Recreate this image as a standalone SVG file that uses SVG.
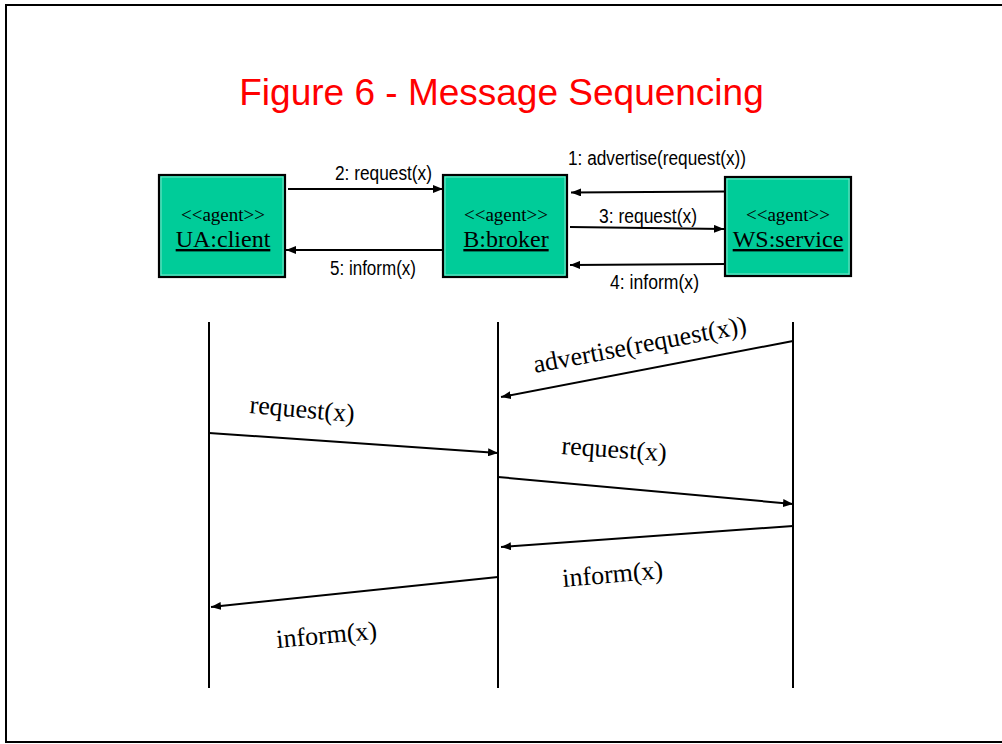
<svg xmlns="http://www.w3.org/2000/svg" width="1002" height="744" viewBox="0 0 1002 744">
<style>
.frame{fill:#fff;stroke:#000;stroke-width:2}
.box{fill:#00CC99;stroke:#000;stroke-width:2.2}
.inner{fill:none;stroke:#7fe6c9;stroke-width:1}
.st{font-family:"Liberation Serif","Times New Roman",serif;font-size:19px;fill:#000;text-anchor:middle}
.nm{font-family:"Liberation Serif","Times New Roman",serif;font-size:24px;fill:#000;text-anchor:middle;text-decoration:underline}
.lbl{font-family:"Liberation Sans",Arial,sans-serif;font-size:20px;fill:#000}
.msg{font-family:"Liberation Serif","Times New Roman",serif;font-size:26px;fill:#000}
.ln{stroke:#000;stroke-width:2;fill:none}
.life{stroke:#000;stroke-width:2}
.title{font-family:"Liberation Sans",Arial,sans-serif;font-size:37px;fill:#FF0000;text-anchor:middle}
</style>
<defs>
<marker id="ah" viewBox="0 0 10 8" refX="10" refY="4" markerWidth="10" markerHeight="8" markerUnits="userSpaceOnUse" orient="auto">
<path d="M0,0 L10,4 L0,8 Z" fill="#000"/>
</marker>
</defs>
<rect class="frame" x="6" y="5" width="1010" height="737"/>
<text class="title" x="501.5" y="105">Figure 6 - Message Sequencing</text>

<g id="ua-client">
<rect class="box" x="159" y="175" width="126" height="102"/>
<rect class="inner" x="161" y="177" width="122" height="98"/>
<text class="st" x="223" y="221">&lt;&lt;agent&gt;&gt;</text>
<text class="nm" x="223" y="247">UA:client</text>
</g>
<g id="b-broker">
<rect class="box" x="443" y="175" width="124" height="102"/>
<rect class="inner" x="445" y="177" width="120" height="98"/>
<text class="st" x="506" y="221">&lt;&lt;agent&gt;&gt;</text>
<text class="nm" x="506" y="247">B:broker</text>
</g>
<g id="ws-service">
<rect class="box" x="725" y="177" width="126" height="99"/>
<rect class="inner" x="727" y="179" width="122" height="95"/>
<text class="st" x="788" y="221">&lt;&lt;agent&gt;&gt;</text>
<text class="nm" x="788" y="247">WS:service</text>
</g>

<g id="lifelines">
<line class="life" x1="209" y1="322" x2="209" y2="688"/>
<line class="life" x1="498" y1="322" x2="498" y2="688"/>
<line class="life" x1="793" y1="322" x2="793" y2="688"/>
</g>

<g id="connectors">
<line class="ln" x1="288" y1="189" x2="443" y2="189" marker-end="url(#ah)"/>
<line class="ln" x1="443" y1="250" x2="286" y2="250" marker-end="url(#ah)"/>
<line class="ln" x1="726" y1="191.5" x2="571" y2="192.5" marker-end="url(#ah)"/>
<line class="ln" x1="570" y1="227" x2="724" y2="229" marker-end="url(#ah)"/>
<line class="ln" x1="726" y1="264" x2="570" y2="265" marker-end="url(#ah)"/>

<line class="ln" x1="793" y1="341" x2="501" y2="397" marker-end="url(#ah)"/>
<line class="ln" x1="209" y1="433" x2="498" y2="453" marker-end="url(#ah)"/>
<line class="ln" x1="498" y1="477" x2="793" y2="504" marker-end="url(#ah)"/>
<line class="ln" x1="793" y1="526" x2="501" y2="547" marker-end="url(#ah)"/>
<line class="ln" x1="498" y1="577" x2="211" y2="607" marker-end="url(#ah)"/>
</g>

<g id="labels">
<text class="lbl" x="335" y="180" textLength="97" lengthAdjust="spacingAndGlyphs">2: request(x)</text>
<text class="lbl" x="330" y="275" textLength="86" lengthAdjust="spacingAndGlyphs">5: inform(x)</text>
<text class="lbl" x="568" y="165" textLength="178" lengthAdjust="spacingAndGlyphs">1: advertise(request(x))</text>
<text class="lbl" x="599" y="223" textLength="98" lengthAdjust="spacingAndGlyphs">3: request(x)</text>
<text class="lbl" x="610" y="289" textLength="89" lengthAdjust="spacingAndGlyphs">4: inform(x)</text>

<text class="msg" transform="translate(535,373) rotate(-10.7)">advertise(request(x))</text>
<text class="msg" transform="translate(249,413) rotate(5)">request(x)</text>
<text class="msg" transform="translate(561,454) rotate(4)">request(x)</text>
<text class="msg" transform="translate(563,587) rotate(-5)">inform(x)</text>
<text class="msg" transform="translate(277,648) rotate(-5.3)">inform(x)</text>
</g>
</svg>
